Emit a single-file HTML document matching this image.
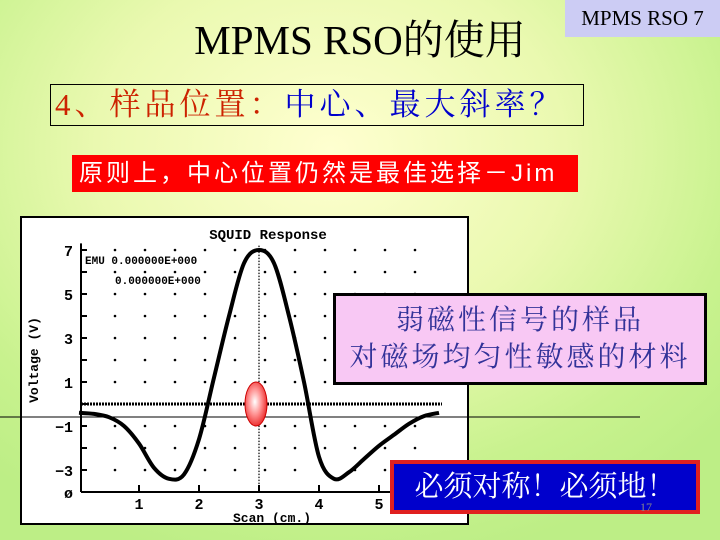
<!DOCTYPE html>
<html><head><meta charset="utf-8"><style>
html,body{margin:0;padding:0;}
body{width:720px;height:540px;overflow:hidden;position:relative;font-family:"Liberation Serif","Noto Serif CJK SC",serif;
background:radial-gradient(ellipse 520px 420px at 330px 150px,#ffffd0 0%,#eaf9b0 45%,#c8f28e 80%,#bdee86 100%);}
.abs{position:absolute;}
</style></head><body>
<div class="abs" style="left:150px;top:16px;width:420px;text-align:center;font-size:41px;color:#000;line-height:48px;">MPMS RSO的使用</div>
<div class="abs" style="left:565px;top:0;width:155px;height:37px;background:#ccccf4;font-size:21px;line-height:37px;text-align:center;color:#000;">MPMS RSO 7</div>
<div class="abs" style="left:50px;top:84px;width:534px;height:42px;border:1px solid #000;box-sizing:border-box;font-family:'Liberation Serif','Noto Serif CJK SC',serif;font-size:31px;letter-spacing:4px;line-height:40px;padding-left:4px;white-space:nowrap;"><span style="color:#cc2200">4、样品位置：</span><span style="color:#0000cc">中心、最大斜率？</span></div>
<div class="abs" style="left:72px;top:155px;width:506px;height:37px;background:#ff0000;color:#fff;font-family:'Liberation Sans','Noto Sans CJK SC',sans-serif;font-size:24px;letter-spacing:3px;line-height:37px;padding-left:7px;box-sizing:border-box;white-space:nowrap;">原则上，中心位置仍然是最佳选择－Jim</div>

<svg class="abs" style="left:0;top:0" width="720" height="540">
<rect x="21" y="217" width="447" height="307" fill="#fff" stroke="#000" stroke-width="2"/>
<text x="268" y="239" text-anchor="middle" font-family="Liberation Mono,monospace" font-weight="bold" font-size="14">SQUID Response</text>
<text transform="translate(38,360) rotate(-90)" text-anchor="middle" font-family="Liberation Mono,monospace" font-weight="bold" font-size="13">Voltage (V)</text>
<text x="272" y="522" text-anchor="middle" font-family="Liberation Mono,monospace" font-weight="bold" font-size="13">Scan (cm.)</text>
<text x="85" y="264" font-family="Liberation Mono,monospace" font-weight="bold" font-size="11">EMU 0.000000E+000</text>
<text x="115" y="284" font-family="Liberation Mono,monospace" font-weight="bold" font-size="11">0.000000E+000</text>
<g id="grid"></g><g id="axes"></g><g id="marks"></g>
</svg>
<svg class="abs" style="left:0;top:0" width="720" height="540">
<line x1="0" y1="417" x2="640" y2="417" stroke="#000" stroke-width="1"/>
<defs><radialGradient id="rg" cx="0.45" cy="0.45" r="0.6"><stop offset="0" stop-color="#fff"/><stop offset="0.5" stop-color="#ff9090"/><stop offset="1" stop-color="#e82020"/></radialGradient></defs>
<ellipse cx="256" cy="404" rx="11" ry="22" fill="url(#rg)" stroke="#c00" stroke-width="1"/>
</svg>

<div class="abs" style="left:333px;top:293px;width:374px;height:92px;background:#f8c8f4;border:3px solid #000;box-sizing:border-box;color:#333399;font-family:'Liberation Serif','Noto Serif CJK SC',serif;font-size:28px;letter-spacing:3px;line-height:37px;text-align:center;padding-top:6px;white-space:nowrap;">弱磁性信号的样品<br>对磁场均匀性敏感的材料</div>
<div class="abs" style="left:390px;top:460px;width:310px;height:54px;background:#0000cc;border:4px solid #e02020;box-sizing:border-box;color:#fff;font-family:'Liberation Serif','Noto Serif CJK SC',serif;font-size:29px;line-height:46px;text-align:center;white-space:nowrap;">必须对称！必须地！</div>
<div class="abs" style="left:640px;top:500px;font-size:12px;color:#888;">17</div>

<script>
const scanPos=[0,0.25,0.5,0.75,1,1.25,1.5,1.75,2,2.25,2.5,2.75,3,3.25,3.5,3.75,4,4.25,4.5,4.75,5,5.25,5.5,5.75,6];
const voltage=[-0.4,-0.45,-0.6,-1.0,-1.8,-2.9,-3.4,-3.2,-1.6,1.2,4.0,6.4,7.0,6.4,4.0,1.0,-2.4,-3.4,-3.1,-2.5,-1.9,-1.4,-0.9,-0.55,-0.4];
const yTicks=[7,5,3,1,-1,-3,-4];
const yTickLabels=["7","5","3","1","\u22121","\u22123","\u00f8"];
const xTicks=[1,2,3,4,5];
const NS="http://www.w3.org/2000/svg";
const X=v=>79+v*60, Y=v=>404-v*22;
function mk(t,a,p){const e=document.createElementNS(NS,t);for(const k in a)e.setAttribute(k,a[k]);p.appendChild(e);return e;}
const grid=document.getElementById('grid'),axes=document.getElementById('axes'),marks=document.getElementById('marks');
for(let gx=0.6;gx<=6.05;gx+=0.5){for(let gy=7;gy>=-3;gy--){if(gy===0)continue;const d=mk('circle',{cx:X(gx),cy:Y(gy),r:1.3,fill:'#000'},grid);

}}
const ya=mk('line',{x1:X(0)+2,y1:Y(7.3),x2:X(0)+2,y2:Y(-4),stroke:'#000','stroke-width':2},axes);


const xa=mk('line',{x1:X(0)+2,y1:Y(-4),x2:X(6.05),y2:Y(-4),stroke:'#000','stroke-width':2},axes);


for(let v=7;v>=-4;v--){mk('line',{x1:X(0)+2,y1:Y(v),x2:X(0)+8,y2:Y(v),stroke:'#000','stroke-width':2},axes);}
yTicks.forEach((v,i)=>{const t=mk('text',{x:X(0)-6,y:Y(v)+6,'text-anchor':'end','font-family':'Liberation Mono,monospace','font-weight':'bold','font-size':15},axes);t.textContent=yTickLabels[i];

});
xTicks.forEach(v=>{mk('line',{x1:X(v),y1:Y(-4),x2:X(v),y2:Y(-4)-7,stroke:'#000','stroke-width':2},axes);
const t=mk('text',{x:X(v),y:Y(-4)+17,'text-anchor':'middle','font-family':'Liberation Mono,monospace','font-weight':'bold','font-size':15},axes);t.textContent=v;

});
const cl=mk('line',{x1:X(3),y1:Y(7.2),x2:X(3),y2:Y(-4),stroke:'#000','stroke-width':1.2,'stroke-dasharray':'1.5,1.5'},marks);


const zl=mk('line',{x1:X(0)+2,y1:Y(0),x2:X(6.05),y2:Y(0),stroke:'#000','stroke-width':3,'stroke-dasharray':'2,1'},marks);


const P=scanPos.map((s,i)=>[X(s),Y(voltage[i])]);
let d='M'+P[0][0]+','+P[0][1];
for(let i=0;i<P.length-1;i++){const p0=P[Math.max(0,i-1)],p1=P[i],p2=P[i+1],p3=P[Math.min(P.length-1,i+2)];
d+=' C'+(p1[0]+(p2[0]-p0[0])/6)+','+(p1[1]+(p2[1]-p0[1])/6)+' '+(p2[0]-(p3[0]-p1[0])/6)+','+(p2[1]-(p3[1]-p1[1])/6)+' '+p2[0]+','+p2[1];}
const c=mk('path',{d:d,fill:'none',stroke:'#000','stroke-width':4,'stroke-linejoin':'round'},marks);


</script>
</body></html>
